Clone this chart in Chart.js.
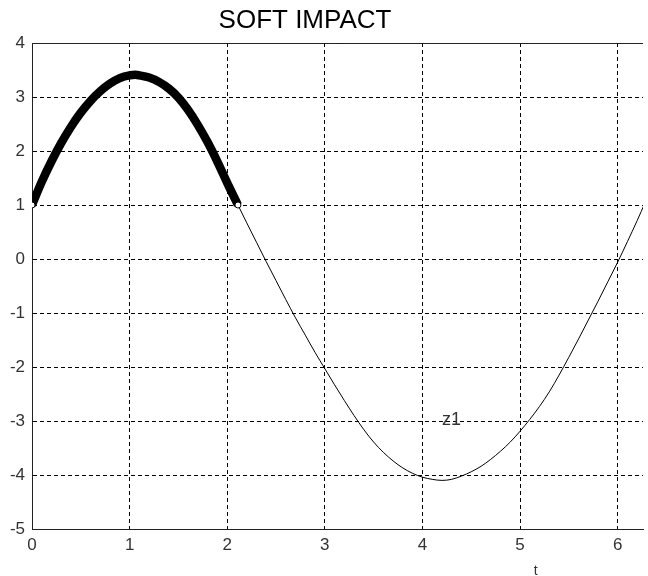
<!DOCTYPE html>
<html>
<head>
<meta charset="utf-8">
<script src="https://cdn.jsdelivr.net/npm/chart.js@4"></script>
<style>
  html, body { margin: 0; padding: 0; background: #fff; overflow: hidden; }
  #wrap { width: 648px; height: 576px; }
</style>
</head>
<body>
<div id="wrap"><canvas id="softImpact"></canvas></div>
<script>
// contact phase (drawn thick, o markers in the original)
const contactT = [0, 0.1, 0.2, 0.3, 0.4, 0.5, 0.6, 0.7, 0.8, 0.9, 1.0, 1.06, 1.1, 1.2, 1.3, 1.4, 1.5, 1.6, 1.7, 1.8, 1.9, 2.0, 2.11];
const contactZ = [1.0, 1.43, 1.81, 2.15, 2.45, 2.71, 2.93, 3.11, 3.25, 3.35, 3.40, 3.41, 3.40, 3.36, 3.28, 3.16, 2.99, 2.76, 2.48, 2.16, 1.80, 1.41, 1.0];

// free flight phase (thin line)
const freeT = [2.11, 2.2, 2.3, 2.4, 2.5, 2.6, 2.7, 2.8, 2.9, 3.0, 3.1, 3.2, 3.3, 3.4, 3.5, 3.6, 3.7, 3.8, 3.9, 4.0,
               4.1, 4.2, 4.3, 4.4, 4.5, 4.6, 4.7, 4.8, 4.9, 5.0, 5.1, 5.2, 5.3, 5.4, 5.5, 5.6, 5.7, 5.8, 5.9, 6.0, 6.1, 6.2, 6.283];
const freeZ = [1.0, 0.67, 0.31, -0.05, -0.40, -0.75, -1.09, -1.41, -1.73, -2.03, -2.33, -2.62, -2.90, -3.16, -3.39, -3.58, -3.74, -3.87, -3.97, -4.04,
               -4.08, -4.10, -4.08, -4.02, -3.94, -3.84, -3.71, -3.56, -3.39, -3.19, -2.97, -2.73, -2.46, -2.15, -1.82, -1.48, -1.13, -0.78, -0.42, -0.06, 0.32, 0.71, 1.05];

const yTicks = [-5, -4, -3, -2, -1, 0, 1, 2, 3, 4];
const xTicks = [0, 1, 2, 3, 4, 5, 6];

const toPoints = (xs, ys) => xs.map((x, i) => ({ x: x, y: ys[i] }));

const FONT = "'Liberation Sans', Arial, sans-serif";

// title, top frame line and the text annotations
const decorPlugin = {
  id: "decor",
  afterDraw(chart) {
    const { ctx, chartArea, scales } = chart;
    ctx.save();
    ctx.strokeStyle = "#222";
    ctx.lineWidth = 1;
    ctx.beginPath();
    ctx.moveTo(chartArea.left, Math.round(chartArea.top) + 0.5);
    ctx.lineTo(chartArea.right, Math.round(chartArea.top) + 0.5);
    ctx.stroke();

    ctx.fillStyle = "#000";
    ctx.font = "26px " + FONT;
    ctx.textAlign = "center";
    ctx.textBaseline = "alphabetic";
    ctx.fillText("SOFT IMPACT", 305, 28);

    ctx.fillStyle = "#333";
    ctx.font = "18px " + FONT;
    ctx.textAlign = "left";
    ctx.fillText("z1", scales.x.getPixelForValue(4.2), scales.y.getPixelForValue(-3.07));

    ctx.font = "14px " + FONT;
    ctx.textAlign = "center";
    ctx.fillText("t", scales.x.getPixelForValue(5.16), 575);
    ctx.restore();
  }
};

new Chart(document.getElementById("softImpact"), {
  type: "scatter",
  data: {
    datasets: [
      {
        label: "contact",
        data: toPoints(contactT, contactZ),
        showLine: true,
        borderColor: "#000",
        borderWidth: 8.5,
        cubicInterpolationMode: "monotone",
        pointRadius: (c) => (c.dataIndex === 0 || c.dataIndex === contactT.length - 1) ? 3 : 0,
        pointBackgroundColor: "#fff",
        pointBorderColor: "#000",
        pointBorderWidth: 1
      },
      {
        label: "z1",
        data: toPoints(freeT, freeZ),
        showLine: true,
        borderColor: "#000",
        borderWidth: 1,
        cubicInterpolationMode: "monotone",
        pointRadius: 0
      }
    ]
  },
  options: {
    responsive: true,
    maintainAspectRatio: false,
    animation: false,
    layout: { padding: { top: 43, right: 0, left: 0, bottom: 0 } },
    plugins: {
      legend: { display: false },
      tooltip: { enabled: false },
      title: { display: false }
    },
    scales: {
      x: {
        type: "linear",
        min: 0,
        max: 6.26,
        afterBuildTicks: (axis) => { axis.ticks = xTicks.map(v => ({ value: v })); },
        afterFit: (axis) => { axis.height = 47; },
        ticks: { color: "#333", font: { family: FONT, size: 17 }, padding: 6, maxRotation: 0 },
        grid: { color: "#000", drawTicks: false },
        border: { color: "#222", width: 1, dash: [4, 3] }
      },
      y: {
        type: "linear",
        min: -5,
        max: 4,
        afterBuildTicks: (axis) => { axis.ticks = yTicks.map(v => ({ value: v })); },
        afterFit: (axis) => { axis.width = 32; },
        ticks: { color: "#333", font: { family: FONT, size: 17 }, padding: 7 },
        grid: { color: "#000", drawTicks: false },
        border: { color: "#222", width: 1, dash: [4, 3] }
      }
    }
  },
  plugins: [decorPlugin]
});
</script>
</body>
</html>
